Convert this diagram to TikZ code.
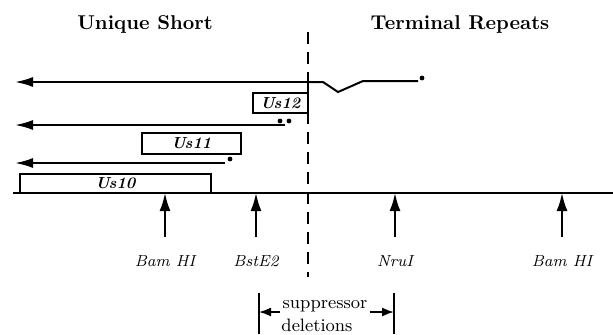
\documentclass[tikz,border=0pt]{standalone}
\usepackage{tikz}
\usetikzlibrary{arrows.meta,calc}
\tikzset{
  >={Latex[length=9pt,width=5pt]},
  seq/.style={->, line width=1pt},
  plain/.style={line width=1pt},
  sitearrow/.style={-{Latex[length=9pt,width=5.5pt]}, line width=1pt},
  spanarrow/.style={-{Latex[length=6pt,width=4.5pt]}, line width=0.8pt},
  fragbox/.style={
    draw,
    line width=1.3pt,
    inner sep=0pt,
    font=\footnotesize\bfseries\itshape
  },
  sitelabel/.style={font=\footnotesize\itshape, anchor=base},
  heading/.style={font=\bfseries, anchor=base},
  spantext/.style={font=\small, anchor=base, inner sep=1pt},
  enddot/.style={circle, fill, inner sep=0pt, minimum size=2.4pt},
  junction/.style={dash pattern=on 6pt off 4pt, line width=0.7pt}
}
\begin{document}
\begin{tikzpicture}[x=0.5pt,y=-0.5pt]
\useasboundingbox (0,0) rectangle (613,334);
% headings
\node[heading] (ushead) at (145,29) {Unique Short};
\node[heading] (trhead) at (460,29) {Terminal Repeats};
% border between Us and TRs
\coordinate (jtop) at (308,32);
\coordinate (jbot) at (308,277);
\draw[junction] (jtop) -- (jbot);
% genome line
\coordinate (gw) at (13,193);
\coordinate (ge) at (613,193);
\draw[plain] (gw) -- (ge);
% the three reading frames
\node[fragbox,minimum width=95.5pt,minimum height=9.5pt] (us10) at (115.5,183.5) {Us10};
\node[fragbox,minimum width=49.5pt,minimum height=10.5pt] (us11) at (191.5,143.5) {Us11};
\node[fragbox,minimum width=27.5pt,minimum height=10pt] (us12) at (280.5,103) {Us12};
% transcripts
\coordinate (t1s) at (308,82);
\coordinate (t1e) at (15,82);
\coordinate (t1low) at (308,122);
\draw[seq] (t1s) -- (t1e);
\draw[plain] (t1s) -- (t1low);
\draw[plain] (t1s) -- ++(15,0) -- ++(15,10) -- ++(25,-11) -- ++(55,0) coordinate (t1r);
\node[enddot] (d1) at (422,78) {};
\coordinate (t2s) at (285,125);
\coordinate (t2e) at (15,125);
\draw[seq] (t2s) -- (t2e);
\node[enddot] (d2a) at (280,121) {};
\node[enddot] (d2b) at (289,121) {};
\coordinate (t3s) at (225,163);
\coordinate (t3e) at (15,163);
\draw[seq] (t3s) -- (t3e);
\node[enddot] (d3) at (230,159) {};
% restriction sites
\foreach \name/\x/\lab in {bama/165/Bam HI, bste/256/BstE2, nru/395/NruI, bamb/562/Bam HI}{
  \node[sitelabel] (\name) at (\x,266) {\lab};
  \coordinate (\name tail) at (\x,237);
  \draw[sitearrow] (\name tail) -- (\name tail |- gw);
}
% extent of the deletions
\coordinate (lbtop) at (259,293);
\coordinate (lbbot) at (259,334);
\coordinate (rbtop) at (394,293);
\coordinate (rbbot) at (394,334);
\draw[line width=0.8pt] (lbtop) -- (lbbot);
\draw[line width=0.8pt] (rbtop) -- (rbbot);
\node[spantext] (supp) at (325,308) {suppressor};
\node[spantext] (dele) at (317,331) {deletions};
\draw[spanarrow] ([yshift=-2pt]supp.base west) -- ([yshift=-2pt]supp.base west -| lbtop);
\draw[spanarrow] ([yshift=-2pt]supp.base east) -- ([yshift=-2pt]supp.base east -| rbtop);
\end{tikzpicture}
\end{document}
